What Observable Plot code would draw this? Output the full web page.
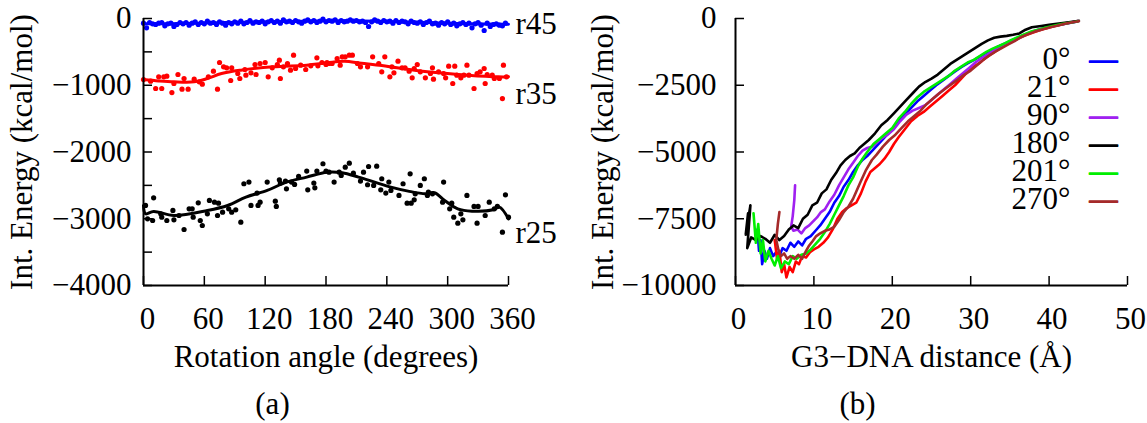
<!DOCTYPE html>
<html><head><meta charset="utf-8">
<script src="https://cdn.jsdelivr.net/npm/d3@7"></script>
<script src="https://cdn.jsdelivr.net/npm/@observablehq/plot@0.6"></script>
<style>
body{margin:0;background:#fff;}
#wrap{display:flex;width:1147px;height:423px;overflow:hidden;}
#wrap svg{display:block;overflow:visible;}
</style></head><body><div id="wrap"></div>
<script>
// ---------------- Panel (a) data ----------------
const angleTicks = [0, 60, 120, 180, 240, 300, 360];
const energyTicksA = [0, -1000, -2000, -3000, -4000];
const energyMinorA = [0, -500, -1000, -1500, -2000, -2500, -3000, -3500, -4000];
const seriesNamesA = ["r45", "r35", "r25"];
const seriesColorsA = ["#0000ff", "#ff0000", "#000000"];

const r45Points = [[0,-70],[3,-140],[6,-60],[9,-80],[12,-90],[15,-70],[18,-60],[21,-110],[24,-80],[27,-70],
[30,-120],[33,-90],[36,-60],[39,-80],[42,-60],[45,-100],[48,-70],[51,-50],[54,-90],[57,-60],
[60,-80],[63,-40],[66,-70],[69,-60],[72,-90],[75,-50],[78,-70],[81,-100],[84,-60],[87,-80],
[90,-50],[93,-70],[96,-40],[99,-80],[102,-60],[105,-30],[108,-70],[111,-50],[114,-60],[117,-40],
[120,-80],[123,-50],[126,-30],[129,-60],[132,-40],[135,-70],[138,-20],[141,-50],[144,-40],[147,-60],
[150,-30],[153,-50],[156,-70],[159,-40],[162,-20],[165,-50],[168,-30],[171,-60],[174,-40],[177,-10],
[180,-50],[183,-30],[186,-40],[189,-20],[192,-60],[195,-30],[198,-50],[201,-40],[204,-20],[207,-40],
[210,-30],[213,-50],[216,-40],[219,-60],[222,-120],[225,-50],[228,-20],[231,-40],[234,-60],[237,-30],
[240,-50],[243,-40],[246,-70],[249,-30],[252,-60],[255,-40],[258,-50],[261,-80],[264,-40],[267,-60],
[270,-70],[273,-50],[276,-90],[279,-60],[282,-40],[285,-80],[288,-70],[291,-100],[294,-60],[297,-80],
[300,-50],[303,-90],[306,-70],[309,-110],[312,-80],[315,-60],[318,-90],[321,-70],[324,-140],[327,-80],
[330,-60],[333,-100],[336,-180],[339,-70],[342,-120],[345,-90],[348,-80],[351,-100],[354,-110],[357,-70]];
const r45Curve = [[0,-80],[40,-75],[80,-60],[120,-50],[160,-40],[200,-35],[240,-45],[280,-60],[320,-80],[360,-85]];

const r35Points = [[0,-914],[7,-939],[12,-1049],[15,-874],[18,-1049],[20,-874],[23,-864],[28,-1109],[30,-974],[34,-839],
[38,-1059],[40,-899],[44,-1059],[50,-909],[55,-949],[58,-984],[64,-874],[69,-789],[73,-1059],[75,-659],
[79,-724],[82,-739],[86,-929],[87,-739],[93,-824],[95,-899],[100,-764],[101,-849],[106,-814],[110,-689],
[111,-839],[115,-674],[120,-659],[123,-874],[127,-739],[132,-689],[134,-624],[135,-899],[138,-724],[142,-674],
[145,-774],[148,-549],[150,-749],[155,-699],[160,-764],[165,-709],[171,-589],[172,-709],[176,-659],[180,-689],
[181,-659],[183,-674],[186,-674],[191,-599],[194,-699],[196,-574],[199,-574],[203,-549],[206,-549],[211,-674],
[214,-724],[221,-724],[226,-574],[232,-674],[235,-799],[238,-574],[243,-874],[245,-724],[247,-814],[251,-639],
[255,-739],[258,-739],[262,-789],[265,-889],[267,-749],[270,-689],[273,-799],[278,-889],[283,-824],[285,-739],
[286,-909],[291,-799],[296,-824],[298,-889],[301,-714],[305,-974],[307,-714],[309,-849],[313,-889],[316,-849],
[319,-699],[321,-849],[326,-1049],[329,-824],[332,-799],[336,-749],[337,-974],[339,-839],[344,-849],[346,-899],
[351,-899],[354,-1199],[355,-699],[358,-874]];
const r35Curve = [[0,-914],[15,-935],[30,-949],[50,-949],[63,-899],[77,-824],[96,-774],[128,-724],[161,-699],[181,-664],
[198,-640],[215,-670],[235,-705],[250,-739],[280,-799],[320,-849],[350,-874],[360,-874]];

const r25Points = [[2,-2801],[4,-3001],[10,-2686],[9,-3026],[17,-2926],[18,-2976],[23,-3026],[29,-2876],[30,-3016],[35,-2951],
[40,-3161],[45,-2851],[48,-2851],[49,-2976],[54,-2761],[56,-3026],[58,-3101],[63,-2926],[65,-2726],[70,-2751],
[74,-2766],[73,-2951],[78,-2901],[84,-2851],[87,-2901],[91,-2866],[96,-3051],[99,-2476],[104,-2451],[106,-2801],
[112,-2616],[113,-2801],[115,-2751],[122,-2451],[130,-2736],[131,-2816],[134,-2416],[135,-2466],[140,-2436],[141,-2551],
[146,-2451],[149,-2486],[153,-2366],[161,-2286],[162,-2566],[168,-2466],[169,-2536],[171,-2286],[177,-2176],[180,-2286],
[183,-2302],[188,-2451],[193,-2302],[195,-2352],[199,-2227],[203,-2167],[207,-2317],[214,-2436],[217,-2302],[221,-2491],
[222,-2217],[227,-2501],[230,-2212],[234,-2566],[235,-2401],[239,-2616],[242,-2451],[244,-2576],[252,-2651],[256,-2476],
[260,-2766],[263,-2327],[264,-2766],[267,-2716],[268,-2626],[273,-2501],[277,-2401],[280,-2651],[281,-2601],[285,-2626],
[296,-2451],[295,-2751],[302,-2851],[304,-2766],[306,-2976],[310,-3066],[313,-2926],[315,-3016],[319,-2651],[326,-2816],
[329,-3066],[330,-2816],[337,-2951],[341,-2751],[346,-2851],[349,-2816],[354,-3201],[357,-2641],[360,-2976]];
const r25Curve = [[0,-2800],[2,-2926],[10,-2890],[30,-2951],[63,-2876],[83,-2801],[101,-2676],[122,-2576],[141,-2451],[161,-2376],
[181,-2302],[196,-2310],[212,-2376],[228,-2451],[244,-2526],[261,-2586],[278,-2626],[287,-2610],[297,-2726],[310,-2851],
[324,-2886],[345,-2866],[351,-2826],[360,-3001]];

// ---------------- Panel (b) data ----------------
const distTicks = [0, 10, 20, 30, 40, 50];
const energyTicksB = [0, -2500, -5000, -7500, -10000];
const seriesNamesB = ["0°", "21°", "90°", "180°", "201°", "270°"];
const seriesColorsB = ["#0000ff", "#ff0000", "#a020f0", "#000000", "#00ee00", "#a52a2a"];

const deg0 = [[2.8,-7900],[3.0,-8700],[3.2,-8300],[3.4,-9200],[3.7,-8700],[4.0,-9000],[4.4,-8600],[4.8,-8900],[5.2,-8750],[5.6,-8900],
[6.0,-8600],[6.5,-8700],[7.0,-8400],[7.5,-8550],[8.0,-8350],[8.5,-8500],[9.0,-8250],[9.6,-8150],[10.2,-7950],[10.8,-7750],
[11.4,-7500],[12.0,-7250],[12.6,-6900],[13.2,-6650],[13.8,-6300],[14.4,-6050],[15.0,-5750],[15.6,-5500],[16.2,-5300],[16.8,-5150],
[17.6,-4900],[18.4,-4650],[19.2,-4400],[20.0,-4150],[20.8,-3850],[21.6,-3600],[22.4,-3350],[23.2,-3100],[24.0,-2900],[24.8,-2700],
[25.6,-2500],[26.4,-2330],[27.2,-2150],[28.0,-1980],[28.8,-1820],[29.6,-1680],[30.4,-1560],[31.2,-1420],[32.0,-1280],[32.8,-1160],
[33.6,-1040],[34.4,-930],[35.2,-820],[36.0,-720],[36.8,-620],[37.6,-520],[38.6,-430],[39.6,-350],[40.6,-280],[41.6,-220],
[42.6,-165],[43.6,-110]];
const deg21 = [[5.0,-8300],[5.3,-9000],[5.6,-8700],[5.9,-9500],[6.2,-9200],[6.5,-9700],[6.9,-9300],[7.3,-9500],[7.7,-9100],[8.1,-9200],
[8.5,-8900],[9.0,-8950],[9.5,-8750],[10.0,-8650],[10.6,-8550],[11.2,-8400],[11.8,-8200],[12.4,-7900],[13.0,-7500],[13.6,-7250],
[14.2,-7100],[14.8,-7000],[15.4,-6900],[16.0,-6550],[16.6,-6100],[17.2,-5750],[17.8,-5600],[18.4,-5450],[19.0,-5250],[19.6,-5000],
[20.2,-4700],[20.8,-4450],[21.6,-4150],[22.4,-3850],[23.2,-3650],[24.0,-3500],[24.8,-3300],[25.6,-3100],[26.4,-2900],[27.2,-2700],
[28.0,-2500],[28.8,-2250],[29.6,-2000],[30.4,-1800],[31.2,-1650],[32.0,-1450],[32.8,-1300],[33.6,-1150],[34.4,-1000],[35.2,-880],
[36.0,-760],[36.8,-650],[37.6,-560],[38.6,-460],[39.6,-370],[40.6,-290],[41.6,-220],[42.6,-160],[43.6,-100]];
const deg90 = [[7.6,-6250],[7.5,-6800],[7.3,-7400],[7.1,-7800],[7.4,-7950],[7.9,-7900],[8.4,-8050],[8.9,-7850],[9.4,-7750],[9.9,-7600],
[10.4,-7450],[10.9,-7250],[11.4,-7150],[12.0,-6850],[12.6,-6600],[13.2,-6250],[13.8,-5950],[14.4,-5650],[15.0,-5400],[15.6,-5150],
[16.2,-4950],[16.8,-4850],[17.4,-4800],[18.0,-4650],[18.6,-4500],[19.4,-4350],[20.2,-4150],[21.0,-3850],[21.8,-3600],[22.6,-3450],
[23.4,-3350],[24.2,-3250],[25.0,-3050],[25.8,-2850],[26.6,-2650],[27.4,-2450],[28.2,-2250],[29.0,-2050],[29.8,-1850],[30.6,-1650],
[31.4,-1480],[32.2,-1330],[33.0,-1180],[33.8,-1060],[34.6,-960],[35.4,-850],[36.2,-720],[37.0,-600],[37.8,-500],[38.8,-400],
[39.8,-320],[40.8,-250],[41.8,-190],[42.8,-140],[43.6,-100]];
const deg180 = [[1.6,-7300],[1.3,-8100],[1.9,-7000],[1.5,-8600],[2.0,-8200],[2.6,-8300],[3.2,-8150],[3.8,-8250],[4.4,-8400],[5.0,-8100],
[5.6,-8300],[6.2,-8150],[6.8,-7900],[7.4,-7750],[8.0,-7850],[8.6,-7500],[9.2,-7350],[9.8,-7000],[10.4,-6900],[11.0,-6550],
[11.6,-6400],[12.2,-6050],[12.8,-5800],[13.4,-5500],[14.0,-5300],[14.6,-5150],[15.2,-5050],[15.8,-4850],[16.4,-4700],[17.0,-4550],
[17.8,-4300],[18.6,-4000],[19.4,-3800],[20.2,-3550],[21.0,-3300],[21.8,-3050],[22.6,-2800],[23.4,-2550],[24.2,-2380],[25.0,-2250],
[25.8,-2100],[26.6,-1900],[27.4,-1700],[28.2,-1550],[29.0,-1400],[29.8,-1250],[30.6,-1100],[31.4,-950],[32.2,-820],[33.0,-720],
[33.8,-680],[34.6,-650],[35.4,-610],[36.2,-560],[37.0,-420],[37.8,-330],[39.0,-280],[40.0,-240],[41.0,-200],[42.0,-160],
[43.0,-120],[43.8,-90]];
const deg201 = [[2.3,-7300],[2.6,-8400],[2.9,-7700],[3.2,-8800],[3.5,-8300],[3.8,-9100],[4.2,-8700],[4.6,-9000],[5.0,-9250],[5.4,-8900],
[5.8,-9350],[6.3,-9100],[6.8,-9200],[7.3,-8900],[7.8,-9000],[8.4,-8850],[9.0,-8800],[9.6,-8650],[10.2,-8450],[10.8,-8250],
[11.4,-8000],[12.0,-7700],[12.6,-7350],[13.2,-7000],[13.8,-6650],[14.4,-6250],[15.0,-5950],[15.6,-5550],[16.2,-5250],[16.8,-5000],
[17.6,-4700],[18.4,-4500],[19.2,-4300],[20.0,-4100],[20.8,-3750],[21.6,-3500],[22.4,-3200],[23.2,-2950],[24.0,-2750],[24.8,-2600],
[25.6,-2450],[26.4,-2300],[27.2,-2150],[28.0,-1950],[28.8,-1800],[29.6,-1650],[30.4,-1550],[31.2,-1400],[32.0,-1250],[32.8,-1130],
[33.6,-1030],[34.4,-920],[35.2,-800],[36.0,-700],[36.8,-600],[37.6,-500],[38.6,-420],[39.6,-340],[40.6,-270],[41.6,-210],
[42.6,-160],[43.6,-110]];
const deg270 = [[5.6,-7250],[5.4,-7700],[5.2,-8300],[5.5,-8700],[5.8,-8900],[6.2,-8800],[6.6,-9000],[7.0,-8900],[7.5,-9000],[8.0,-8850],
[8.5,-9000],[9.0,-8700],[9.4,-8500],[9.8,-8350],[10.3,-8150],[10.8,-8050],[11.4,-7950],[12.0,-7900],[12.6,-7800],[13.2,-7550],
[13.8,-7250],[14.4,-7050],[15.0,-6750],[15.9,-6150],[16.6,-5700],[17.4,-5300],[18.0,-5100],[18.8,-4800],[19.6,-4550],[20.4,-4350],
[21.2,-4100],[22.0,-3850],[22.8,-3650],[23.6,-3450],[24.4,-3200],[25.2,-3000],[26.0,-2800],[26.8,-2620],[27.6,-2450],[28.4,-2280],
[29.2,-2100],[30.0,-1950],[30.8,-1750],[31.6,-1550],[32.4,-1380],[33.2,-1230],[34.0,-1100],[34.8,-970],[35.6,-850],[36.4,-700],
[37.2,-600],[38.0,-510],[39.0,-420],[40.0,-340],[41.0,-270],[42.0,-200],[43.0,-140],[43.8,-100]];
const seriesDataB = [deg0, deg21, deg90, deg180, deg201, deg270];

const titleXA = "Rotation angle (degrees)";
const titleXB = "G3\u2212DNA distance (Å)";
const titleY = "Int. Energy (kcal/mol)";
const captions = ["(a)", "(b)"];

// ---------------- Rendering ----------------
const FONT = "'Liberation Serif','Times New Roman',Times,serif";
const fmt = d => d < 0 ? "\u2212" + Math.abs(d) : String(d);
const H = 423, FT = 18, FB = 285;

const W1 = 580, FL1 = 143, FR1 = 508;
const pointsA = [r45Points, r35Points, r25Points];
const curvesA = [r45Curve, r35Curve, r25Curve];
const labelDy = [0, 17, 14];

const marksA = [];
pointsA.forEach((pts, i) => {
  marksA.push(Plot.dot(pts, {x: d => d[0], y: d => d[1], r: 2.6, fill: seriesColorsA[i], stroke: "none"}));
});
curvesA.forEach((c, i) => {
  marksA.push(Plot.line(c, {x: d => d[0], y: d => d[1], curve: "catmull-rom", stroke: seriesColorsA[i], strokeWidth: 3, strokeLinejoin: "round"}));
  marksA.push(Plot.text([c[c.length - 1]], {x: d => d[0], y: d => d[1], text: () => seriesNamesA[i], dx: 7, dy: labelDy[i], textAnchor: "start", lineAnchor: "middle", fill: "black"}));
});

const left = Plot.plot({
  width: W1, height: H,
  marginLeft: FL1, marginRight: W1 - FR1, marginTop: FT, marginBottom: H - FB,
  style: {fontFamily: FONT, fontSize: "31px", background: "white", color: "black", overflow: "visible"},
  x: {domain: [angleTicks[0], angleTicks[angleTicks.length - 1]]},
  y: {domain: [energyTicksA[energyTicksA.length - 1], energyTicksA[0]]},
  marks: [
    Plot.axisX(angleTicks, {tickSize: 0, tickPadding: 21, dx: 4, tickFormat: fmt, label: null}),
    Plot.axisY(energyTicksA, {tickSize: 0, tickPadding: 12, tickFormat: fmt, label: null}),
    Plot.tickY(energyMinorA, {y: d => d, insetRight: (FR1 - FL1) - 9, strokeWidth: 1.5}),
    Plot.tickX(angleTicks, {x: d => d, insetTop: (FB - FT) - 9, strokeWidth: 1.5}),
    ...marksA,
    Plot.ruleX([angleTicks[0]], {strokeWidth: 2}),
    Plot.ruleY([energyTicksA[energyTicksA.length - 1]], {strokeWidth: 2}),
    Plot.text([titleY], {text: d => d, frameAnchor: "left", textAnchor: "middle", lineAnchor: "middle", rotate: -90, dx: -121}),
    Plot.text([titleXA], {text: d => d, frameAnchor: "bottom", lineAnchor: "middle", dy: 72}),
    Plot.text([captions[0]], {text: d => d, frameAnchor: "bottom-left", textAnchor: "middle", lineAnchor: "middle", dx: 129, dy: 119})
  ]
});

const W2 = 567, FL2 = 155, FR2 = 547;
const marksB = [];
seriesDataB.forEach((s, i) => {
  marksB.push(Plot.line(s, {x: d => d[0], y: d => d[1], stroke: seriesColorsB[i], strokeWidth: 2.6, strokeLinejoin: "round"}));
});
const legendB = [];
seriesNamesB.forEach((n, i) => {
  legendB.push(Plot.text([n], {text: d => d, frameAnchor: "top-right", textAnchor: "end", lineAnchor: "middle", dx: -57, dy: 41 + 28 * i}));
  legendB.push(Plot.text(["\u2014"], {text: d => d, frameAnchor: "top-right", textAnchor: "end", lineAnchor: "middle", dx: -10, dy: 41 + 28 * i, fontSize: 28, fill: seriesColorsB[i], stroke: seriesColorsB[i], strokeWidth: 1.3}));
});

const right = Plot.plot({
  width: W2, height: H,
  marginLeft: FL2, marginRight: W2 - FR2, marginTop: FT, marginBottom: H - FB,
  style: {fontFamily: FONT, fontSize: "31px", background: "white", color: "black", overflow: "visible"},
  x: {domain: [distTicks[0], distTicks[distTicks.length - 1]]},
  y: {domain: [energyTicksB[energyTicksB.length - 1], energyTicksB[0]]},
  marks: [
    Plot.axisX(distTicks, {tickSize: 0, tickPadding: 21, dx: 3, tickFormat: fmt, label: null}),
    Plot.axisY(energyTicksB, {tickSize: 0, tickPadding: 19, tickFormat: fmt, label: null}),
    Plot.tickY(energyTicksB, {y: d => d, insetRight: (FR2 - FL2) - 9, strokeWidth: 1.5}),
    Plot.tickX(distTicks, {x: d => d, insetTop: (FB - FT) - 9, strokeWidth: 1.5}),
    ...marksB,
    ...legendB,
    Plot.ruleX([distTicks[0]], {strokeWidth: 2}),
    Plot.ruleY([energyTicksB[energyTicksB.length - 1]], {strokeWidth: 2}),
    Plot.text([titleY], {text: d => d, frameAnchor: "left", textAnchor: "middle", lineAnchor: "middle", rotate: -90, dx: -132}),
    Plot.text([titleXB], {text: d => d, frameAnchor: "bottom", lineAnchor: "middle", dy: 72}),
    Plot.text([captions[1]], {text: d => d, frameAnchor: "bottom-left", textAnchor: "middle", lineAnchor: "middle", dx: 122, dy: 119})
  ]
});

const wrap = document.getElementById("wrap");
wrap.appendChild(left);
wrap.appendChild(right);
</script></body></html>
